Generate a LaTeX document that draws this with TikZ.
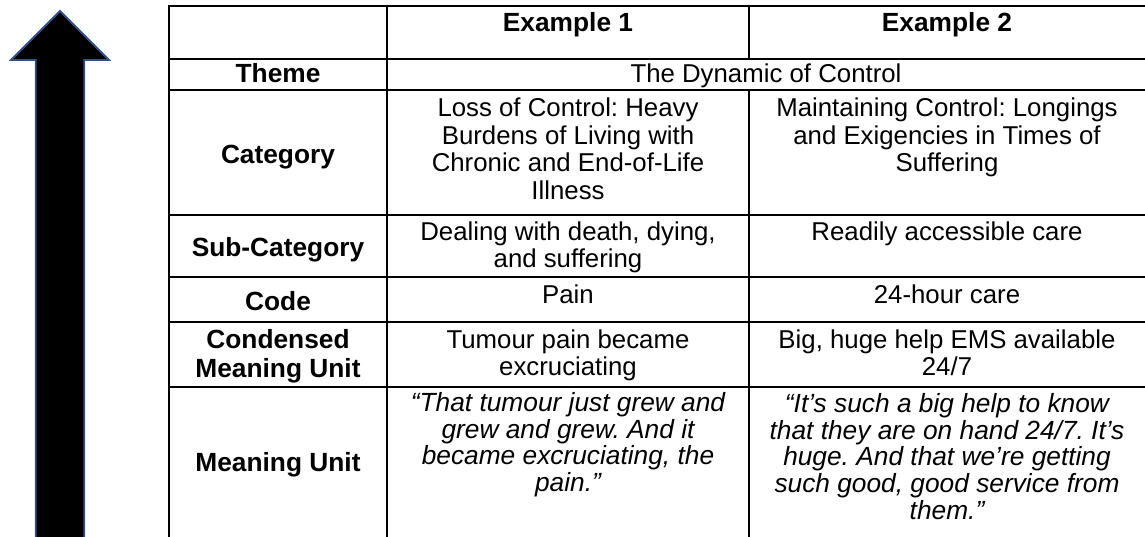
\documentclass[tikz,border=0pt]{standalone}
\usepackage{fontspec}
\setmainfont{Liberation Sans}
\definecolor{arrowblue}{RGB}{47,82,143}
% invisible strut fixing the height of the first line of each cell
\newcommand\cellstrut{\rule{0pt}{20pt}}
\frenchspacing
\begin{document}
\begin{tikzpicture}[x=1pt,y=-1pt,
  grid/.style={line width=2pt, black, line cap=rect},
  cell/.style={anchor=north, inner sep=0pt, align=center,
    font=\fontsize{25.8}{27.4}\selectfont},
  head/.style={cell, font=\fontsize{26.3}{29}\selectfont\bfseries},
  quote/.style={cell, font=\fontsize{26.3}{26.8}\selectfont\itshape},
  arrowbody/.style={fill=black, draw=arrowblue, line width=1.8pt, line join=miter}]
\clip (0,0) rectangle (1145,537);

% upward arrow on the left
\draw[arrowbody] (60,11) -- (109,60) -- (84.3,60) -- (84.3,545)
  -- (35.7,545) -- (35.7,60) -- (11,60) -- cycle;

% table rules
\foreach \yy in {5.7,59,90,215,277,322,387}
  \draw[grid] (169,\yy) -- (1150,\yy);
\draw[grid] (169,5.7) -- (169,545);
\draw[grid] (387,5.7) -- (387,545);
\draw[grid] (749,5.7) -- (749,59);
\draw[grid] (749,90) -- (749,545);

% header row
\node[head] (ex1) at (568,11.5) {\cellstrut Example 1};
\node[head] (ex2) at (947,11.5) {\cellstrut Example 2};

% theme
\node[head] (theme) at (278,62) {\cellstrut Theme};
\node[cell] (themetxt) at (766,62) {\cellstrut The Dynamic of Control};

% category
\node[head] (cat) at (278,143) {\cellstrut Category};
\node[cell] (cat1) at (568,96.7) {\cellstrut Loss of Control: Heavy\\Burdens of Living with\\Chronic and End-of-Life\\Illness};
\node[cell] (cat2) at (947,96.7) {\cellstrut Maintaining Control: Longings\\and Exigencies in Times of\\Suffering};

% sub-category
\node[head] (sub) at (278,236.7) {\cellstrut Sub-Category};
\node[cell] (sub1) at (568,220) {\cellstrut Dealing with death, dying,\\and suffering};
\node[cell] (sub2) at (947,220) {\cellstrut Readily accessible care};

% code
\node[head] (code) at (278,290) {\cellstrut Code};
\node[cell] (code1) at (568,283) {\cellstrut Pain};
\node[cell] (code2) at (947,283) {\cellstrut 24-hour care};

% condensed meaning unit
\node[head] (cmu) at (278,328) {\cellstrut Condensed\\Meaning Unit};
\node[cell] (cmu1) at (568,328) {\cellstrut Tumour pain became\\excruciating};
\node[cell] (cmu2) at (947,328) {\cellstrut Big, huge help EMS available\\24/7};

% meaning unit
\node[head] (mu) at (278,451.7) {\cellstrut Meaning Unit};
\node[quote] (mu1) at (568,391) {\cellstrut “That tumour just grew and\\grew and grew. And it\\became excruciating, the\\pain.”};
\node[quote] (mu2) at (947,392) {\cellstrut “It’s such a big help to know\\that they are on hand 24/7. It’s\\huge. And that we’re getting\\such good, good service from\\them.”};
\end{tikzpicture}
\end{document}
